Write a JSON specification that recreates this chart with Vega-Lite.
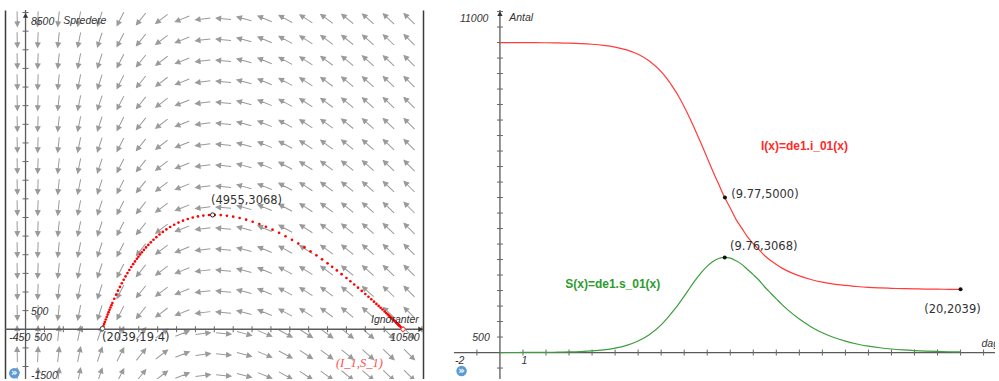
{
"$schema":"https://vega.github.io/schema/vega-lite/v6.json",
"background":"white",
"padding":{"left":5,"top":10,"right":0,"bottom":0},
"spacing":31,
"datasets":{
"arrows":[
{"I":-220,"S":8330,"a":88.8},{"I":327,"S":8330,"a":92},{"I":873,"S":8330,"a":96.1},{"I":1420,"S":8330,"a":101.4},{"I":1966,"S":8330,"a":108.2},{"I":2513,"S":8330,"a":117.1},{"I":3060,"S":8330,"a":128.6},{"I":3606,"S":8330,"a":142.6},{"I":4153,"S":8330,"a":158.1},{"I":4699,"S":8330,"a":172.8},{"I":5246,"S":8330,"a":185.3},{"I":5793,"S":8330,"a":195.1},{"I":6339,"S":8330,"a":202.6},{"I":6886,"S":8330,"a":208.4},{"I":7432,"S":8330,"a":212.9},{"I":7979,"S":8330,"a":216.4},{"I":8526,"S":8330,"a":219.2},{"I":9072,"S":8330,"a":221.5},{"I":9619,"S":8330,"a":223.5},{"I":10165,"S":8330,"a":225.1},
{"I":-220,"S":7767,"a":88.8},{"I":327,"S":7767,"a":92},{"I":873,"S":7767,"a":96.1},{"I":1420,"S":7767,"a":101.4},{"I":1966,"S":7767,"a":108.2},{"I":2513,"S":7767,"a":117.1},{"I":3060,"S":7767,"a":128.6},{"I":3606,"S":7767,"a":142.6},{"I":4153,"S":7767,"a":158.1},{"I":4699,"S":7767,"a":172.8},{"I":5246,"S":7767,"a":185.3},{"I":5793,"S":7767,"a":195.1},{"I":6339,"S":7767,"a":202.6},{"I":6886,"S":7767,"a":208.4},{"I":7432,"S":7767,"a":212.9},{"I":7979,"S":7767,"a":216.4},{"I":8526,"S":7767,"a":219.2},{"I":9072,"S":7767,"a":221.5},{"I":9619,"S":7767,"a":223.5},{"I":10165,"S":7767,"a":225.1},
{"I":-220,"S":7204,"a":88.8},{"I":327,"S":7204,"a":92},{"I":873,"S":7204,"a":96.1},{"I":1420,"S":7204,"a":101.4},{"I":1966,"S":7204,"a":108.2},{"I":2513,"S":7204,"a":117.1},{"I":3060,"S":7204,"a":128.6},{"I":3606,"S":7204,"a":142.6},{"I":4153,"S":7204,"a":158.1},{"I":4699,"S":7204,"a":172.8},{"I":5246,"S":7204,"a":185.3},{"I":5793,"S":7204,"a":195.1},{"I":6339,"S":7204,"a":202.6},{"I":6886,"S":7204,"a":208.4},{"I":7432,"S":7204,"a":212.9},{"I":7979,"S":7204,"a":216.4},{"I":8526,"S":7204,"a":219.2},{"I":9072,"S":7204,"a":221.5},{"I":9619,"S":7204,"a":223.5},{"I":10165,"S":7204,"a":225.1},
{"I":-220,"S":6641,"a":88.8},{"I":327,"S":6641,"a":92},{"I":873,"S":6641,"a":96.1},{"I":1420,"S":6641,"a":101.4},{"I":1966,"S":6641,"a":108.2},{"I":2513,"S":6641,"a":117.1},{"I":3060,"S":6641,"a":128.6},{"I":3606,"S":6641,"a":142.6},{"I":4153,"S":6641,"a":158.1},{"I":4699,"S":6641,"a":172.8},{"I":5246,"S":6641,"a":185.3},{"I":5793,"S":6641,"a":195.1},{"I":6339,"S":6641,"a":202.6},{"I":6886,"S":6641,"a":208.4},{"I":7432,"S":6641,"a":212.9},{"I":7979,"S":6641,"a":216.4},{"I":8526,"S":6641,"a":219.2},{"I":9072,"S":6641,"a":221.5},{"I":9619,"S":6641,"a":223.5},{"I":10165,"S":6641,"a":225.1},
{"I":-220,"S":6078,"a":88.8},{"I":327,"S":6078,"a":92},{"I":873,"S":6078,"a":96.1},{"I":1420,"S":6078,"a":101.4},{"I":1966,"S":6078,"a":108.2},{"I":2513,"S":6078,"a":117.1},{"I":3060,"S":6078,"a":128.6},{"I":3606,"S":6078,"a":142.6},{"I":4153,"S":6078,"a":158.1},{"I":4699,"S":6078,"a":172.8},{"I":5246,"S":6078,"a":185.3},{"I":5793,"S":6078,"a":195.1},{"I":6339,"S":6078,"a":202.6},{"I":6886,"S":6078,"a":208.4},{"I":7432,"S":6078,"a":212.9},{"I":7979,"S":6078,"a":216.4},{"I":8526,"S":6078,"a":219.2},{"I":9072,"S":6078,"a":221.5},{"I":9619,"S":6078,"a":223.5},{"I":10165,"S":6078,"a":225.1},
{"I":-220,"S":5515,"a":88.8},{"I":327,"S":5515,"a":92},{"I":873,"S":5515,"a":96.1},{"I":1420,"S":5515,"a":101.4},{"I":1966,"S":5515,"a":108.2},{"I":2513,"S":5515,"a":117.1},{"I":3060,"S":5515,"a":128.6},{"I":3606,"S":5515,"a":142.6},{"I":4153,"S":5515,"a":158.1},{"I":4699,"S":5515,"a":172.8},{"I":5246,"S":5515,"a":185.3},{"I":5793,"S":5515,"a":195.1},{"I":6339,"S":5515,"a":202.6},{"I":6886,"S":5515,"a":208.4},{"I":7432,"S":5515,"a":212.9},{"I":7979,"S":5515,"a":216.4},{"I":8526,"S":5515,"a":219.2},{"I":9072,"S":5515,"a":221.5},{"I":9619,"S":5515,"a":223.5},{"I":10165,"S":5515,"a":225.1},
{"I":-220,"S":4952,"a":88.8},{"I":327,"S":4952,"a":92},{"I":873,"S":4952,"a":96.1},{"I":1420,"S":4952,"a":101.4},{"I":1966,"S":4952,"a":108.2},{"I":2513,"S":4952,"a":117.1},{"I":3060,"S":4952,"a":128.6},{"I":3606,"S":4952,"a":142.6},{"I":4153,"S":4952,"a":158.1},{"I":4699,"S":4952,"a":172.8},{"I":5246,"S":4952,"a":185.3},{"I":5793,"S":4952,"a":195.1},{"I":6339,"S":4952,"a":202.6},{"I":6886,"S":4952,"a":208.4},{"I":7432,"S":4952,"a":212.9},{"I":7979,"S":4952,"a":216.4},{"I":8526,"S":4952,"a":219.2},{"I":9072,"S":4952,"a":221.5},{"I":9619,"S":4952,"a":223.5},{"I":10165,"S":4952,"a":225.1},
{"I":-220,"S":4389,"a":88.8},{"I":327,"S":4389,"a":92},{"I":873,"S":4389,"a":96.1},{"I":1420,"S":4389,"a":101.4},{"I":1966,"S":4389,"a":108.2},{"I":2513,"S":4389,"a":117.1},{"I":3060,"S":4389,"a":128.6},{"I":3606,"S":4389,"a":142.6},{"I":4153,"S":4389,"a":158.1},{"I":4699,"S":4389,"a":172.8},{"I":5246,"S":4389,"a":185.3},{"I":5793,"S":4389,"a":195.1},{"I":6339,"S":4389,"a":202.6},{"I":6886,"S":4389,"a":208.4},{"I":7432,"S":4389,"a":212.9},{"I":7979,"S":4389,"a":216.4},{"I":8526,"S":4389,"a":219.2},{"I":9072,"S":4389,"a":221.5},{"I":9619,"S":4389,"a":223.5},{"I":10165,"S":4389,"a":225.1},
{"I":-220,"S":3826,"a":88.8},{"I":327,"S":3826,"a":92},{"I":873,"S":3826,"a":96.1},{"I":1420,"S":3826,"a":101.4},{"I":1966,"S":3826,"a":108.2},{"I":2513,"S":3826,"a":117.1},{"I":3060,"S":3826,"a":128.6},{"I":3606,"S":3826,"a":142.6},{"I":4153,"S":3826,"a":158.1},{"I":4699,"S":3826,"a":172.8},{"I":5246,"S":3826,"a":185.3},{"I":5793,"S":3826,"a":195.1},{"I":6339,"S":3826,"a":202.6},{"I":6886,"S":3826,"a":208.4},{"I":7432,"S":3826,"a":212.9},{"I":7979,"S":3826,"a":216.4},{"I":8526,"S":3826,"a":219.2},{"I":9072,"S":3826,"a":221.5},{"I":9619,"S":3826,"a":223.5},{"I":10165,"S":3826,"a":225.1},
{"I":-220,"S":3263,"a":88.8},{"I":327,"S":3263,"a":92},{"I":873,"S":3263,"a":96.1},{"I":1420,"S":3263,"a":101.4},{"I":1966,"S":3263,"a":108.2},{"I":2513,"S":3263,"a":117.1},{"I":3060,"S":3263,"a":128.6},{"I":3606,"S":3263,"a":142.6},{"I":4153,"S":3263,"a":158.1},{"I":4699,"S":3263,"a":172.8},{"I":5246,"S":3263,"a":185.3},{"I":5793,"S":3263,"a":195.1},{"I":6339,"S":3263,"a":202.6},{"I":6886,"S":3263,"a":208.4},{"I":7432,"S":3263,"a":212.9},{"I":7979,"S":3263,"a":216.4},{"I":8526,"S":3263,"a":219.2},{"I":9072,"S":3263,"a":221.5},{"I":9619,"S":3263,"a":223.5},{"I":10165,"S":3263,"a":225.1},
{"I":-220,"S":2700,"a":88.8},{"I":327,"S":2700,"a":92},{"I":873,"S":2700,"a":96.1},{"I":1420,"S":2700,"a":101.4},{"I":1966,"S":2700,"a":108.2},{"I":2513,"S":2700,"a":117.1},{"I":3060,"S":2700,"a":128.6},{"I":3606,"S":2700,"a":142.6},{"I":4153,"S":2700,"a":158.1},{"I":4699,"S":2700,"a":172.8},{"I":5246,"S":2700,"a":185.3},{"I":5793,"S":2700,"a":195.1},{"I":6339,"S":2700,"a":202.6},{"I":6886,"S":2700,"a":208.4},{"I":7432,"S":2700,"a":212.9},{"I":7979,"S":2700,"a":216.4},{"I":8526,"S":2700,"a":219.2},{"I":9072,"S":2700,"a":221.5},{"I":9619,"S":2700,"a":223.5},{"I":10165,"S":2700,"a":225.1},
{"I":-220,"S":2137,"a":88.8},{"I":327,"S":2137,"a":92},{"I":873,"S":2137,"a":96.1},{"I":1420,"S":2137,"a":101.4},{"I":1966,"S":2137,"a":108.2},{"I":2513,"S":2137,"a":117.1},{"I":3060,"S":2137,"a":128.6},{"I":3606,"S":2137,"a":142.6},{"I":4153,"S":2137,"a":158.1},{"I":4699,"S":2137,"a":172.8},{"I":5246,"S":2137,"a":185.3},{"I":5793,"S":2137,"a":195.1},{"I":6339,"S":2137,"a":202.6},{"I":6886,"S":2137,"a":208.4},{"I":7432,"S":2137,"a":212.9},{"I":7979,"S":2137,"a":216.4},{"I":8526,"S":2137,"a":219.2},{"I":9072,"S":2137,"a":221.5},{"I":9619,"S":2137,"a":223.5},{"I":10165,"S":2137,"a":225.1},
{"I":-220,"S":1574,"a":88.8},{"I":327,"S":1574,"a":92},{"I":873,"S":1574,"a":96.1},{"I":1420,"S":1574,"a":101.4},{"I":1966,"S":1574,"a":108.2},{"I":2513,"S":1574,"a":117.1},{"I":3060,"S":1574,"a":128.6},{"I":3606,"S":1574,"a":142.6},{"I":4153,"S":1574,"a":158.1},{"I":4699,"S":1574,"a":172.8},{"I":5246,"S":1574,"a":185.3},{"I":5793,"S":1574,"a":195.1},{"I":6339,"S":1574,"a":202.6},{"I":6886,"S":1574,"a":208.4},{"I":7432,"S":1574,"a":212.9},{"I":7979,"S":1574,"a":216.4},{"I":8526,"S":1574,"a":219.2},{"I":9072,"S":1574,"a":221.5},{"I":9619,"S":1574,"a":223.5},{"I":10165,"S":1574,"a":225.1},
{"I":-220,"S":1011,"a":88.8},{"I":327,"S":1011,"a":92},{"I":873,"S":1011,"a":96.1},{"I":1420,"S":1011,"a":101.4},{"I":1966,"S":1011,"a":108.2},{"I":2513,"S":1011,"a":117.1},{"I":3060,"S":1011,"a":128.6},{"I":3606,"S":1011,"a":142.6},{"I":4153,"S":1011,"a":158.1},{"I":4699,"S":1011,"a":172.8},{"I":5246,"S":1011,"a":185.3},{"I":5793,"S":1011,"a":195.1},{"I":6339,"S":1011,"a":202.6},{"I":6886,"S":1011,"a":208.4},{"I":7432,"S":1011,"a":212.9},{"I":7979,"S":1011,"a":216.4},{"I":8526,"S":1011,"a":219.2},{"I":9072,"S":1011,"a":221.5},{"I":9619,"S":1011,"a":223.5},{"I":10165,"S":1011,"a":225.1},
{"I":-220,"S":448,"a":88.8},{"I":327,"S":448,"a":92},{"I":873,"S":448,"a":96.1},{"I":1420,"S":448,"a":101.4},{"I":1966,"S":448,"a":108.2},{"I":2513,"S":448,"a":117.1},{"I":3060,"S":448,"a":128.6},{"I":3606,"S":448,"a":142.6},{"I":4153,"S":448,"a":158.1},{"I":4699,"S":448,"a":172.8},{"I":5246,"S":448,"a":185.3},{"I":5793,"S":448,"a":195.1},{"I":6339,"S":448,"a":202.6},{"I":6886,"S":448,"a":208.4},{"I":7432,"S":448,"a":212.9},{"I":7979,"S":448,"a":216.4},{"I":8526,"S":448,"a":219.2},{"I":9072,"S":448,"a":221.5},{"I":9619,"S":448,"a":223.5},{"I":10165,"S":448,"a":225.1},
{"I":-220,"S":-115,"a":-91.2},{"I":327,"S":-115,"a":-88},{"I":873,"S":-115,"a":-83.9},{"I":1420,"S":-115,"a":-78.6},{"I":1966,"S":-115,"a":-71.8},{"I":2513,"S":-115,"a":-62.9},{"I":3060,"S":-115,"a":-51.4},{"I":3606,"S":-115,"a":-37.4},{"I":4153,"S":-115,"a":-21.9},{"I":4699,"S":-115,"a":-7.2},{"I":5246,"S":-115,"a":5.3},{"I":5793,"S":-115,"a":15.1},{"I":6339,"S":-115,"a":22.6},{"I":6886,"S":-115,"a":28.4},{"I":7432,"S":-115,"a":32.9},{"I":7979,"S":-115,"a":36.4},{"I":8526,"S":-115,"a":39.2},{"I":9072,"S":-115,"a":41.5},{"I":9619,"S":-115,"a":43.5},{"I":10165,"S":-115,"a":45.1},
{"I":-220,"S":-678,"a":-91.2},{"I":327,"S":-678,"a":-88},{"I":873,"S":-678,"a":-83.9},{"I":1420,"S":-678,"a":-78.6},{"I":1966,"S":-678,"a":-71.8},{"I":2513,"S":-678,"a":-62.9},{"I":3060,"S":-678,"a":-51.4},{"I":3606,"S":-678,"a":-37.4},{"I":4153,"S":-678,"a":-21.9},{"I":4699,"S":-678,"a":-7.2},{"I":5246,"S":-678,"a":5.3},{"I":5793,"S":-678,"a":15.1},{"I":6339,"S":-678,"a":22.6},{"I":6886,"S":-678,"a":28.4},{"I":7432,"S":-678,"a":32.9},{"I":7979,"S":-678,"a":36.4},{"I":8526,"S":-678,"a":39.2},{"I":9072,"S":-678,"a":41.5},{"I":9619,"S":-678,"a":43.5},{"I":10165,"S":-678,"a":45.1},
{"I":-220,"S":-1241,"a":-91.2},{"I":327,"S":-1241,"a":-88},{"I":873,"S":-1241,"a":-83.9},{"I":1420,"S":-1241,"a":-78.6},{"I":1966,"S":-1241,"a":-71.8},{"I":2513,"S":-1241,"a":-62.9},{"I":3060,"S":-1241,"a":-51.4},{"I":3606,"S":-1241,"a":-37.4},{"I":4153,"S":-1241,"a":-21.9},{"I":4699,"S":-1241,"a":-7.2},{"I":5246,"S":-1241,"a":5.3},{"I":5793,"S":-1241,"a":15.1},{"I":6339,"S":-1241,"a":22.6},{"I":6886,"S":-1241,"a":28.4},{"I":7432,"S":-1241,"a":32.9},{"I":7979,"S":-1241,"a":36.4},{"I":8526,"S":-1241,"a":39.2},{"I":9072,"S":-1241,"a":41.5},{"I":9619,"S":-1241,"a":43.5},{"I":10165,"S":-1241,"a":45.1}
],
"traj":[
{"I":9999,"S":1},{"I":9998,"S":2},{"I":9997,"S":3},{"I":9996,"S":4},{"I":9993,"S":7},{"I":9988,"S":12},{"I":9980,"S":20},{"I":9967,"S":33},{"I":9946,"S":54},{"I":9911,"S":88},
{"I":9900,"S":100},{"I":9890,"S":109},{"I":9879,"S":120},{"I":9867,"S":132},{"I":9854,"S":145},{"I":9839,"S":160},{"I":9823,"S":175},{"I":9805,"S":193},
{"I":9786,"S":212},{"I":9765,"S":232},{"I":9743,"S":254},{"I":9718,"S":278},{"I":9691,"S":304},{"I":9661,"S":333},{"I":9629,"S":364},{"I":9593,"S":399},{"I":9554,"S":436},{"I":9511,"S":477},
{"I":9455,"S":530},{"I":9405,"S":577},{"I":9352,"S":626},{"I":9293,"S":681},{"I":9229,"S":740},{"I":9159,"S":804},{"I":9083,"S":872},{"I":9000,"S":946},
{"I":8905,"S":1030},{"I":8807,"S":1116},{"I":8706,"S":1202},{"I":8604,"S":1288},{"I":8500,"S":1375},
{"I":8372,"S":1479},{"I":8246,"S":1580},{"I":8122,"S":1676},{"I":8000,"S":1769},
{"I":7854,"S":1876},{"I":7704,"S":1984},{"I":7549,"S":2090},{"I":7389,"S":2196},{"I":7225,"S":2300},{"I":7058,"S":2400},{"I":6888,"S":2496},{"I":6716,"S":2587},{"I":6542,"S":2673},{"I":6367,"S":2751},{"I":6192,"S":2823},{"I":6017,"S":2886},{"I":5843,"S":2941},{"I":5671,"S":2986},{"I":5501,"S":3021},{"I":5334,"S":3047},{"I":5171,"S":3063},{"I":5013,"S":3069},{"I":4859,"S":3065},{"I":4710,"S":3051},{"I":4567,"S":3029},{"I":4429,"S":2998},{"I":4297,"S":2959},{"I":4171,"S":2914},{"I":4051,"S":2862},{"I":3938,"S":2805},{"I":3831,"S":2743},{"I":3731,"S":2679},{"I":3637,"S":2612},{"I":3549,"S":2543},{"I":3466,"S":2472},{"I":3389,"S":2402},{"I":3318,"S":2332},{"I":3252,"S":2263},{"I":3191,"S":2196},{"I":3134,"S":2129},{"I":3082,"S":2066},{"I":3034,"S":2005},{"I":2989,"S":1946},
{"I":2950,"S":1892},{"I":2900,"S":1821},{"I":2850,"S":1747},{"I":2800,"S":1670},{"I":2750,"S":1590},{"I":2700,"S":1507},{"I":2650,"S":1420},{"I":2600,"S":1329},{"I":2550,"S":1235},{"I":2500,"S":1137},{"I":2450,"S":1035},{"I":2400,"S":929},{"I":2350,"S":818},{"I":2300,"S":703},{"I":2275,"S":644},{"I":2250,"S":584},{"I":2225,"S":522},{"I":2200,"S":459},{"I":2175,"S":394},{"I":2150,"S":329},{"I":2125,"S":262},{"I":2100,"S":194},{"I":2080,"S":138},{"I":2060,"S":81},{"I":2039,"S":19.4}
],
"ts":[
{"t":0,"I":9999,"S":1},{"t":0.5,"I":9998,"S":2},{"t":1,"I":9997,"S":3},{"t":1.5,"I":9996,"S":4},{"t":2,"I":9993,"S":7},{"t":2.5,"I":9988,"S":12},{"t":3,"I":9980,"S":20},{"t":3.5,"I":9967,"S":33},{"t":4,"I":9946,"S":54},{"t":4.5,"I":9911,"S":88},{"t":5,"I":9855,"S":144},{"t":5.5,"I":9765,"S":233},{"t":6,"I":9621,"S":372},{"t":6.5,"I":9396,"S":585},{"t":7,"I":9060,"S":893},{"t":7.25,"I":8834,"S":1092},{"t":7.5,"I":8570,"S":1317},{"t":7.75,"I":8276,"S":1556},{"t":8,"I":7929,"S":1821},{"t":8.25,"I":7549,"S":2090},{"t":8.5,"I":7139,"S":2352},{"t":8.75,"I":6716,"S":2587},{"t":9,"I":6280,"S":2788},{"t":9.25,"I":5843,"S":2941},{"t":9.5,"I":5426,"S":3034},{"t":9.76,"I":5000,"S":3069},{"t":10,"I":4661,"S":3045},{"t":10.25,"I":4297,"S":2959},{"t":10.5,"I":4016,"S":2845},{"t":10.75,"I":3731,"S":2679},{"t":11,"I":3512,"S":2512},{"t":11.25,"I":3318,"S":2332},{"t":11.5,"I":3122,"S":2115},{"t":11.75,"I":2970,"S":1920},{"t":12,"I":2840,"S":1732},{"t":12.25,"I":2724,"S":1547},{"t":12.5,"I":2626,"S":1377},{"t":13,"I":2472,"S":1081},{"t":13.5,"I":2358,"S":836},{"t":14,"I":2272,"S":637},{"t":14.5,"I":2210,"S":485},{"t":15,"I":2168,"S":367},{"t":15.5,"I":2131,"S":276},{"t":16,"I":2104,"S":206},{"t":16.5,"I":2086,"S":155},{"t":17,"I":2072,"S":115},{"t":17.5,"I":2062,"S":86},{"t":18,"I":2054,"S":64},{"t":18.5,"I":2048,"S":47},{"t":19,"I":2044,"S":35},{"t":19.5,"I":2041,"S":26},{"t":20,"I":2039,"S":19.4}
]
},
"hconcat":[
{
"width":418,"height":369,
"resolve":{"axis":{"y":"independent"}},
"layer":[
{"data":{"name":"arrows"},
"mark":{"type":"point","shape":"M-1,0L0.55,0M1,0L0.4,-0.3L0.4,0.3Z","size":225,"filled":true,"fill":"#9a9a9a","stroke":"#9a9a9a","strokeWidth":1,"opacity":1,"clip":true},
"encoding":{
"x":{"field":"I","type":"quantitative","scale":{"domain":[-544,10528],"nice":false,"zero":false},"axis":{"orient":"top","title":null}},
"y":{"field":"S","type":"quantitative","scale":{"domain":[-1335,8568],"nice":false,"zero":false},"axis":{"orient":"left","title":null}},
"angle":{"field":"a","type":"quantitative","scale":null}}},
{"data":{"values":[{}]},
"mark":{"type":"rule","color":"#5a5a5a","strokeWidth":1.3,"clip":true},
"encoding":{"x":{"datum":0,"type":"quantitative","scale":{"domain":[-544,10528],"nice":false,"zero":false},"axis":null}}},
{"data":{"values":[{}]},
"mark":{"type":"rule","color":"#5a5a5a","strokeWidth":1.3,"clip":true},
"encoding":{"y":{"datum":0,"type":"quantitative","scale":{"domain":[-1335,8568],"nice":false,"zero":false},"axis":null}}},
{"data":{"values":[{"I":500},{"I":1000},{"I":1500},{"I":2000},{"I":2500},{"I":3000},{"I":3500},{"I":4000},{"I":4500},{"I":5000},{"I":5500},{"I":6000},{"I":6500},{"I":7000},{"I":7500},{"I":8000},{"I":8500},{"I":9000},{"I":9500},{"I":10000},{"I":10500}]},
"mark":{"type":"point","shape":"M0,-1L0,1","size":36,"filled":false,"stroke":"#666","strokeWidth":1,"opacity":1,"clip":true},
"encoding":{"x":{"field":"I","type":"quantitative","scale":{"domain":[-544,10528],"nice":false,"zero":false},"axis":null},
"y":{"datum":0,"type":"quantitative","scale":{"domain":[-1335,8568],"nice":false,"zero":false},"axis":null}}},
{"data":{"values":[{"S":-1000},{"S":-500},{"S":500},{"S":1000},{"S":1500},{"S":2000},{"S":2500},{"S":3000},{"S":3500},{"S":4000},{"S":4500},{"S":5000},{"S":5500},{"S":6000},{"S":6500},{"S":7000},{"S":7500},{"S":8000},{"S":8500}]},
"mark":{"type":"point","shape":"M-1,0L1,0","size":36,"filled":false,"stroke":"#666","strokeWidth":1,"opacity":1,"clip":true},
"encoding":{"y":{"field":"S","type":"quantitative","scale":{"domain":[-1335,8568],"nice":false,"zero":false},"axis":null},
"x":{"datum":0,"type":"quantitative","scale":{"domain":[-544,10528],"nice":false,"zero":false},"axis":null}}},
{"data":{"values":[{"I":0,"S":8420,"sh":"triangle-up"},{"I":10465,"S":0,"sh":"triangle-right"}]},
"mark":{"type":"point","size":28,"filled":true,"color":"#333","opacity":1,"clip":true},
"encoding":{"x":{"field":"I","type":"quantitative","scale":{"domain":[-544,10528],"nice":false,"zero":false},"axis":null},
"y":{"field":"S","type":"quantitative","scale":{"domain":[-1335,8568],"nice":false,"zero":false},"axis":null},
"shape":{"field":"sh","type":"nominal","scale":null}}},
{"data":{"name":"traj"},
"mark":{"type":"circle","size":7,"color":"#ff0000","opacity":1,"clip":true},
"encoding":{"x":{"field":"I","type":"quantitative","scale":{"domain":[-544,10528],"nice":false,"zero":false},"axis":null},
"y":{"field":"S","type":"quantitative","scale":{"domain":[-1335,8568],"nice":false,"zero":false},"axis":{"orient":"right","title":null}}}},
{"data":{"values":[{"I":4955,"S":3068,"c":"#222"},{"I":2039,"S":19.4,"c":"#555"},{"I":10000,"S":0,"c":"#ff3030"}]},
"mark":{"type":"point","shape":"circle","size":18,"filled":false,"fill":"white","strokeWidth":1,"opacity":1,"clip":true},
"encoding":{"x":{"field":"I","type":"quantitative","scale":{"domain":[-544,10528],"nice":false,"zero":false},"axis":null},
"y":{"field":"S","type":"quantitative","scale":{"domain":[-1335,8568],"nice":false,"zero":false},"axis":null},
"stroke":{"field":"c","type":"nominal","scale":null}}},
{"data":{"values":[{"I":4911,"S":3443,"txt":"(4955,3068)"},{"I":2024,"S":-223,"txt":"(2039,19.4)"}]},
"mark":{"type":"text","align":"left","baseline":"middle","font":"DejaVu Sans","fontSize":11.5,"color":"#333","clip":true},
"encoding":{"x":{"field":"I","type":"quantitative","scale":{"domain":[-544,10528],"nice":false,"zero":false},"axis":null},
"y":{"field":"S","type":"quantitative","scale":{"domain":[-1335,8568],"nice":false,"zero":false},"axis":null},
"text":{"field":"txt"}}},
{"data":{"values":[{"I":143,"S":8248,"txt":"8500"},{"I":999,"S":8266,"txt":"Spredere"},{"I":9150,"S":250,"txt":"Ignoranter"},{"I":9661,"S":-223,"txt":"10500"},{"I":-432,"S":-223,"txt":"-450"},{"I":230,"S":-223,"txt":"500"},{"I":143,"S":475,"txt":"500"},{"I":143,"S":-1253,"txt":"-1500"}]},
"mark":{"type":"text","align":"left","baseline":"middle","font":"Liberation Sans","fontStyle":"italic","fontSize":10.5,"color":"#333","clip":true},
"encoding":{"x":{"field":"I","type":"quantitative","scale":{"domain":[-544,10528],"nice":false,"zero":false},"axis":null},
"y":{"field":"S","type":"quantitative","scale":{"domain":[-1335,8568],"nice":false,"zero":false},"axis":null},
"text":{"field":"txt"}}},
{"data":{"values":[{"I":8222,"S":-894,"txt":"(I_1,S_1)"}]},
"mark":{"type":"text","align":"left","baseline":"middle","font":"Liberation Serif","fontStyle":"italic","fontSize":12.5,"color":"#ff4d4d","clip":true},
"encoding":{"x":{"field":"I","type":"quantitative","scale":{"domain":[-544,10528],"nice":false,"zero":false},"axis":null},
"y":{"field":"S","type":"quantitative","scale":{"domain":[-1335,8568],"nice":false,"zero":false},"axis":null},
"text":{"field":"txt"}}},
{"data":{"values":[{"I":-299,"S":-1181}]},
"mark":{"type":"circle","size":110,"color":"#5b9bd5","opacity":1,"clip":true},
"encoding":{"x":{"field":"I","type":"quantitative","scale":{"domain":[-544,10528],"nice":false,"zero":false},"axis":null},
"y":{"field":"S","type":"quantitative","scale":{"domain":[-1335,8568],"nice":false,"zero":false},"axis":null}}},
{"data":{"values":[{"I":-299,"S":-1181,"txt":"»"}]},
"mark":{"type":"text","align":"center","baseline":"middle","font":"DejaVu Sans","fontWeight":"bold","fontSize":10,"color":"white","clip":true},
"encoding":{"x":{"field":"I","type":"quantitative","scale":{"domain":[-544,10528],"nice":false,"zero":false},"axis":null},
"y":{"field":"S","type":"quantitative","scale":{"domain":[-1335,8568],"nice":false,"zero":false},"axis":null},
"text":{"field":"txt"}}}
]
},
{
"width":541,"height":369,
"layer":[
{"data":{"values":[{}]},
"mark":{"type":"rule","color":"#5a5a5a","strokeWidth":1.3,"clip":true},
"encoding":{"x":{"datum":0,"type":"quantitative","scale":{"domain":[-1.995,21.496],"nice":false,"zero":false},"axis":{"orient":"top","title":null}}}},
{"data":{"values":[{}]},
"mark":{"type":"rule","color":"#5a5a5a","strokeWidth":1.3,"clip":true},
"encoding":{"y":{"datum":0,"type":"quantitative","scale":{"domain":[-853,11050],"nice":false,"zero":false},"axis":{"orient":"left","title":null}}}},
{"data":{"values":[{"t":-1},{"t":1},{"t":2},{"t":3},{"t":4},{"t":5},{"t":6},{"t":7},{"t":8},{"t":9},{"t":10},{"t":11},{"t":12},{"t":13},{"t":14},{"t":15},{"t":16},{"t":17},{"t":18},{"t":19},{"t":20},{"t":21}]},
"mark":{"type":"point","shape":"M0,-1L0,1","size":36,"filled":false,"stroke":"#666","strokeWidth":1,"opacity":1,"clip":true},
"encoding":{"x":{"field":"t","type":"quantitative","scale":{"domain":[-1.995,21.496],"nice":false,"zero":false},"axis":null},
"y":{"datum":0,"type":"quantitative","scale":{"domain":[-853,11050],"nice":false,"zero":false},"axis":null}}},
{"data":{"values":[{"v":-500},{"v":500},{"v":1000},{"v":1500},{"v":2000},{"v":2500},{"v":3000},{"v":3500},{"v":4000},{"v":4500},{"v":5000},{"v":5500},{"v":6000},{"v":6500},{"v":7000},{"v":7500},{"v":8000},{"v":8500},{"v":9000},{"v":9500},{"v":10000},{"v":10500},{"v":11000}]},
"mark":{"type":"point","shape":"M-1,0L1,0","size":36,"filled":false,"stroke":"#666","strokeWidth":1,"opacity":1,"clip":true},
"encoding":{"y":{"field":"v","type":"quantitative","scale":{"domain":[-853,11050],"nice":false,"zero":false},"axis":null},
"x":{"datum":0,"type":"quantitative","scale":{"domain":[-1.995,21.496],"nice":false,"zero":false},"axis":null}}},
{"data":{"values":[{"t":0,"v":10930}]},
"mark":{"type":"point","shape":"triangle-up","size":28,"filled":true,"color":"#333","opacity":1,"clip":true},
"encoding":{"x":{"field":"t","type":"quantitative","scale":{"domain":[-1.995,21.496],"nice":false,"zero":false},"axis":null},
"y":{"field":"v","type":"quantitative","scale":{"domain":[-853,11050],"nice":false,"zero":false},"axis":null}}},
{"data":{"name":"ts"},
"mark":{"type":"line","color":"#ff3b3b","strokeWidth":1.2,"interpolate":"monotone","clip":true},
"encoding":{"x":{"field":"t","type":"quantitative","scale":{"domain":[-1.995,21.496],"nice":false,"zero":false},"axis":null},
"y":{"field":"I","type":"quantitative","scale":{"domain":[-853,11050],"nice":false,"zero":false},"axis":null}}},
{"data":{"name":"ts"},
"mark":{"type":"line","color":"#3c9e3c","strokeWidth":1.2,"interpolate":"monotone","clip":true},
"encoding":{"x":{"field":"t","type":"quantitative","scale":{"domain":[-1.995,21.496],"nice":false,"zero":false},"axis":null},
"y":{"field":"S","type":"quantitative","scale":{"domain":[-853,11050],"nice":false,"zero":false},"axis":null}}},
{"data":{"values":[{"t":9.77,"v":5000},{"t":9.76,"v":3068},{"t":20,"v":2039}]},
"mark":{"type":"circle","size":16,"color":"#111","opacity":1,"clip":true},
"encoding":{"x":{"field":"t","type":"quantitative","scale":{"domain":[-1.995,21.496],"nice":false,"zero":false},"axis":null},
"y":{"field":"v","type":"quantitative","scale":{"domain":[-853,11050],"nice":false,"zero":false},"axis":null}}},
{"data":{"values":[{"t":10.04,"v":5074,"txt":"(9.77,5000)"},{"t":9.987,"v":3419,"txt":"(9.76,3068)"},{"t":18.42,"v":1365,"txt":"(20,2039)"}]},
"mark":{"type":"text","align":"left","baseline":"middle","font":"DejaVu Sans","fontSize":11.5,"color":"#333","clip":true},
"encoding":{"x":{"field":"t","type":"quantitative","scale":{"domain":[-1.995,21.496],"nice":false,"zero":false},"axis":null},
"y":{"field":"v","type":"quantitative","scale":{"domain":[-853,11050],"nice":false,"zero":false},"axis":null},
"text":{"field":"txt"}}},
{"data":{"values":[{"t":-1.737,"v":10752,"txt":"11000"},{"t":0.404,"v":10806,"txt":"Antal"},{"t":-1.203,"v":484,"txt":"500"},{"t":-1.954,"v":-271,"txt":"-2"},{"t":0.938,"v":-271,"txt":"1"},{"t":20.91,"v":268,"txt":"dag"}]},
"mark":{"type":"text","align":"left","baseline":"middle","font":"Liberation Sans","fontStyle":"italic","fontSize":10.5,"color":"#333","clip":true},
"encoding":{"x":{"field":"t","type":"quantitative","scale":{"domain":[-1.995,21.496],"nice":false,"zero":false},"axis":null},
"y":{"field":"v","type":"quantitative","scale":{"domain":[-853,11050],"nice":false,"zero":false},"axis":null},
"text":{"field":"txt"}}},
{"data":{"values":[{"t":11.33,"v":6655,"txt":"I(x)=de1.i_01(x)","c":"#ff2a2a"},{"t":2.835,"v":2203,"txt":"S(x)=de1.s_01(x)","c":"#2e9a2e"}]},
"mark":{"type":"text","align":"left","baseline":"middle","font":"Liberation Sans","fontWeight":"bold","fontSize":12,"clip":true},
"encoding":{"x":{"field":"t","type":"quantitative","scale":{"domain":[-1.995,21.496],"nice":false,"zero":false},"axis":null},
"y":{"field":"v","type":"quantitative","scale":{"domain":[-853,11050],"nice":false,"zero":false},"axis":null},
"text":{"field":"txt"},"color":{"field":"c","type":"nominal","scale":null}}},
{"data":{"values":[{"t":-1.667,"v":-594}]},
"mark":{"type":"circle","size":110,"color":"#5b9bd5","opacity":1,"clip":true},
"encoding":{"x":{"field":"t","type":"quantitative","scale":{"domain":[-1.995,21.496],"nice":false,"zero":false},"axis":null},
"y":{"field":"v","type":"quantitative","scale":{"domain":[-853,11050],"nice":false,"zero":false},"axis":null}}},
{"data":{"values":[{"t":-1.667,"v":-594,"txt":"»"}]},
"mark":{"type":"text","align":"center","baseline":"middle","font":"DejaVu Sans","fontWeight":"bold","fontSize":10,"color":"white","clip":true},
"encoding":{"x":{"field":"t","type":"quantitative","scale":{"domain":[-1.995,21.496],"nice":false,"zero":false},"axis":null},
"y":{"field":"v","type":"quantitative","scale":{"domain":[-853,11050],"nice":false,"zero":false},"axis":null},
"text":{"field":"txt"}}}
]
}
],
"config":{
"view":{"stroke":null},
"axis":{"domain":true,"domainColor":"#3c3c3c","domainWidth":1.5,"ticks":false,"labels":false,"grid":false,"minExtent":0}
}
}
